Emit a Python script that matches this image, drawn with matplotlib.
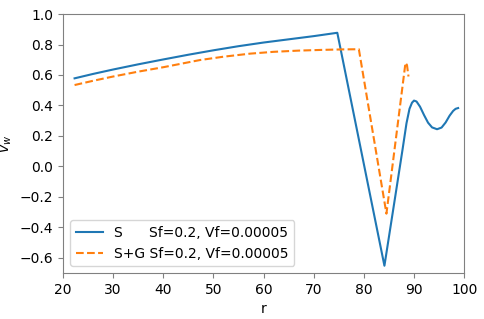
import matplotlib
matplotlib.use("Agg")
import matplotlib.pyplot as plt
import numpy as np

r_s = [22.3, 26, 30, 35, 40, 45, 50, 55, 60, 65, 70, 74.7,
       84.1, 85.5, 86.6, 87.7, 88.5, 89.1, 89.6, 90.0, 90.5, 91.2, 92.0,
       92.8, 93.6, 94.6, 95.5, 96.3, 97.1, 97.8, 98.3, 98.8]
v_s = [0.578, 0.607, 0.636, 0.670, 0.702, 0.733, 0.762, 0.789, 0.813, 0.834, 0.855, 0.877,
       -0.652, -0.357, -0.125, 0.108, 0.283, 0.378, 0.418, 0.432, 0.426, 0.392, 0.337,
       0.287, 0.256, 0.244, 0.255, 0.288, 0.333, 0.364, 0.378, 0.383]

r_sg = [22.3, 26, 30, 35, 40, 47.3, 52, 57.3, 62, 67, 72, 76, 79.0,
        84.5, 88.3, 88.6, 88.9]
v_sg = [0.534, 0.562, 0.590, 0.622, 0.651, 0.698, 0.720, 0.740, 0.752, 0.760, 0.765, 0.768, 0.769,
        -0.31, 0.68, 0.665, 0.59]

label_s = "S      Sf=0.2, Vf=0.00005"
label_sg = "S+G Sf=0.2, Vf=0.00005"

fig = plt.figure(figsize=(4.85, 3.19), dpi=100)
ax = fig.add_axes([0.130, 0.144, 0.827, 0.812])
ax.plot(r_s, v_s, color="#1f77b4", lw=1.5, label=label_s)
ax.plot(r_sg, v_sg, color="#ff7f0e", lw=1.5, ls="--", label=label_sg)
ax.set_xlim(20, 100)
ax.set_ylim(-0.7, 1.0)
ax.set_xticks(np.arange(20, 101, 10))
ax.set_yticks(np.arange(-0.6, 1.01, 0.2))
ax.set_xlabel("r")
ax.set_ylabel("$v_w$")
for s in ax.spines.values():
    s.set_color("#808080")
ax.tick_params(color="#808080")
ax.legend(loc="lower left")
fig.savefig("out.png", dpi=100)
